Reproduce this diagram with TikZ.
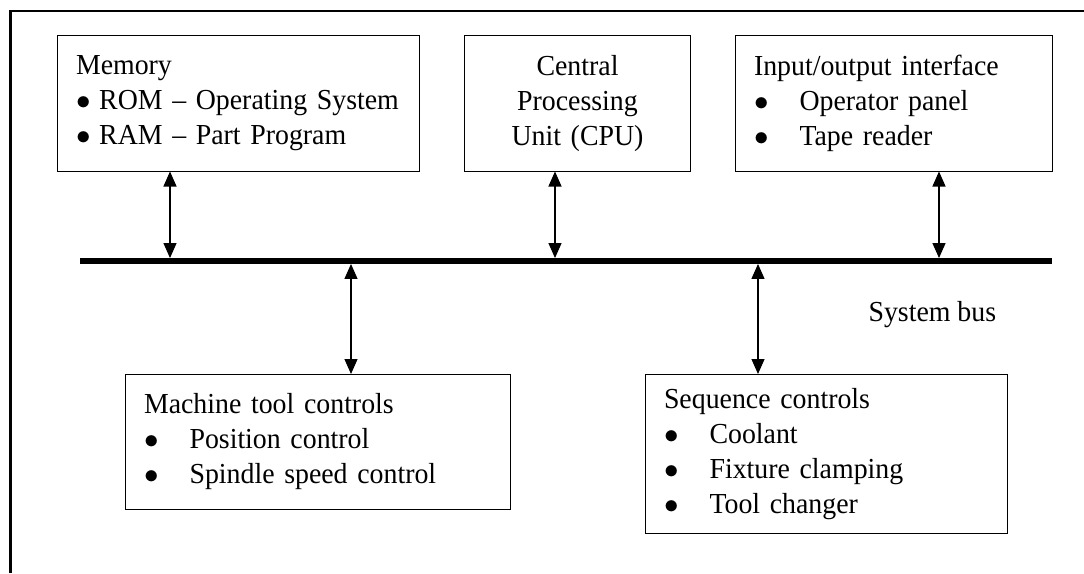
\RequirePackage{fix-cm}
\documentclass[tikz,border=0pt]{standalone}
\usepackage{fontspec}
\setmainfont[FakeStretch=0.96]{Liberation Serif}
\usetikzlibrary{arrows.meta}
\newcommand{\bul}[1]{\makebox[#1][l]{$\bullet$}}

\begin{document}
\begin{tikzpicture}[x=1pt, y=-1pt,
    txt/.style={font=\fontsize{29}{35}\selectfont},
    box/.style={txt, draw, line width=1pt, inner xsep=18.5pt, inner ysep=0pt, anchor=north west, align=left},
    link/.style={{Triangle[length=15pt,width=13pt]}-{Triangle[length=15pt,width=13pt]}, line width=1.2pt},
    busbar/.style={fill=black, inner sep=0pt, minimum width=972pt, minimum height=5.5pt}]
     \useasboundingbox (0,0) rectangle (1084,573);
     \draw[line width=2.2pt] (10.5,573) |- (1084,11);
         \node[box, minimum width=362pt, minimum height=135.5pt, text width=325pt] (mem) at (57,35)
             {Memory\\ \bul{0.8em}ROM -- Operating System\\ \bul{0.8em}RAM -- Part Program};
         \node[box, minimum width=226pt, minimum height=135.5pt, text width=189pt, align=center] (cpu) at (464,35)
             {Central\\ Processing\\ Unit (CPU)};
         \node[box, minimum width=317pt, minimum height=135.5pt, text width=280pt] (io) at (735,35)
             {Input/output interface\\ \bul{1.57em}Operator panel\\ \bul{1.57em}Tape reader};
     \node[busbar] (bus) at (566,261) {};
         \coordinate (tmem) at (170,261);
         \coordinate (tcpu) at (555,261);
         \coordinate (tio) at (939,261);
         \coordinate (tmtc) at (351,261);
         \coordinate (tseq) at (758,261);
     \node[txt, anchor=base west] (buslbl) at (865,321) {System bus};
         \node[box, minimum width=385pt, minimum height=135pt, text width=348pt] (mtc) at (125,374)
             {Machine tool controls\\ \bul{1.57em}Position control\\ \bul{1.57em}Spindle speed control};
         \node[box, minimum width=362pt, minimum height=159pt, text width=325pt] (seq) at (645,374)
             {Sequence controls\\ \bul{1.57em}Coolant\\ \bul{1.57em}Fixture clamping\\ \bul{1.57em}Tool changer};
     \draw[link] (mem.south -| tmem) -- (bus.north -| tmem);
     \draw[link] (cpu.south -| tcpu) -- (bus.north -| tcpu);
     \draw[link] (io.south -| tio) -- (bus.north -| tio);
     \draw[link] (bus.south -| tmtc) -- (mtc.north -| tmtc);
     \draw[link] (bus.south -| tseq) -- (seq.north -| tseq);
\end{tikzpicture}
\end{document}
